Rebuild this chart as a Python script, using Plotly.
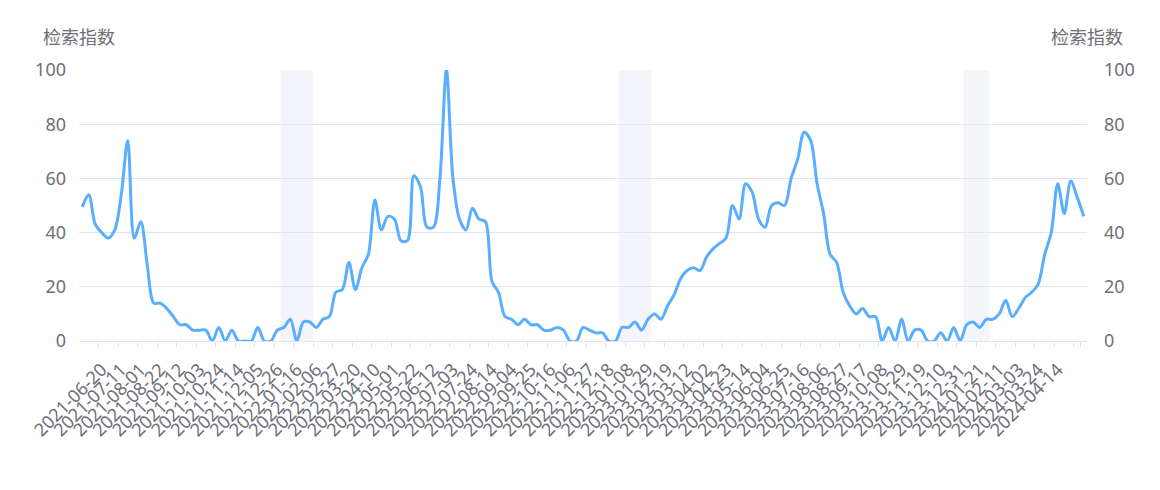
import datetime as dt
import plotly.graph_objects as go

# ---- data ----
start_date = dt.date(2021, 5, 30)
values = [
    49.5, 54, 43, 40, 38, 41, 54, 74, 38, 44,
    28, 14, 14, 12, 9, 6, 6, 4, 4, 4,
    0, 5, 0, 4, 0, 0, 0, 5, 0, 0,
    4, 5, 8, 0, 7, 7, 5, 8, 9, 18,
    19, 29, 19, 27, 32, 52, 41, 46, 45, 37,
    37, 61, 57, 42, 42, 60, 100, 60, 45, 41,
    49, 45, 44, 22, 18, 9, 8, 6, 8, 6,
    6, 4, 4, 5, 4, 0, 0, 5, 4, 3,
    3, 0, 0, 5, 5, 7, 4, 8, 10, 8,
    13, 17, 23, 26, 27, 26, 31, 34, 36, 38,
    50, 45, 58, 55, 45, 42, 50, 51, 50, 60,
    67, 77, 74, 58, 47, 32, 29, 18, 13, 10,
    12, 9, 9, 0, 5, 0, 8, 0, 4, 4,
    0, 0, 3, 0, 5, 0, 6, 7, 5, 8,
    8, 10, 15, 9, 12, 16, 18, 21, 32, 40,
    58, 47, 59, 53, 46,
]
dates = [(start_date + dt.timedelta(weeks=i)).isoformat() for i in range(len(values))]

# tick labels shown on the x axis (every third week)
tick_labels = dates[3:151:3]
extra_ticks = [dates[153]]

# holiday (Spring Festival) shaded periods: (first week, last week)
shaded_periods = [
    ("2022-01-02", "2022-01-30"),
    ("2023-01-01", "2023-01-29"),
    ("2024-01-07", "2024-01-28"),
]

y_ticks = [0, 20, 40, 60, 80, 100]
axis_name = "检索指数"

# ---- style ----
LINE = "#5AAEFF"
TEXT = "#6E7079"
GRID = "#E0E6F1"
SHADE = "#F3F5FA"
FONT = "Noto Sans, Noto Sans CJK SC, sans-serif"

fig = go.Figure()
fig.add_trace(go.Scatter(
    x=dates, y=values, mode="lines",
    line=dict(color=LINE, width=3, shape="spline", smoothing=0.9),
    hoverinfo="x+y", showlegend=False,
))
fig.add_trace(go.Scatter(
    x=dates, y=values, mode="lines", yaxis="y2",
    line=dict(color="rgba(0,0,0,0)", width=0),
    hoverinfo="skip", showlegend=False,
))

shapes = []
for a, b in shaded_periods:
    shapes.append(dict(
        type="rect", xref="x", yref="y",
        x0=dates.index(a) - 0.5, x1=dates.index(b) + 0.5,
        y0=0, y1=100, fillcolor=SHADE, line=dict(width=0), layer="below",
    ))

# page body has an 8px default margin, so the figure is 16px smaller than the window
fig.update_layout(
    width=1144, height=474,
    margin=dict(l=71, r=65, t=62, b=141),
    paper_bgcolor="white", plot_bgcolor="white",
    font=dict(family=FONT, color=TEXT, size=16),
    shapes=shapes,
    xaxis=dict(
        type="category", automargin=False,
        categoryorder="array", categoryarray=dates,
        range=[-0.5, len(dates) - 0.5],
        tickmode="array",
        tickvals=tick_labels + extra_ticks,
        ticktext=tick_labels + [""] * len(extra_ticks),
        tickson="boundaries",
        ticks="outside", ticklen=5, tickcolor=GRID, tickwidth=1,
        tickangle=-45,
        tickfont=dict(size=18, color=TEXT, family=FONT),
        ticklabelstandoff=10,
        showgrid=False, zeroline=False,
        showline=True, linecolor=GRID, linewidth=1,
    ),
    yaxis=dict(
        range=[0, 100], tickvals=y_ticks, automargin=False,
        showgrid=True, gridcolor=GRID, gridwidth=1,
        zeroline=False, showline=False, ticks="",
        tickfont=dict(size=18, color=TEXT, family=FONT),
        ticklabelstandoff=12,
    ),
    yaxis2=dict(
        range=[0, 100], tickvals=y_ticks, overlaying="y", side="right",
        automargin=False,
        showgrid=False, zeroline=False, showline=False, ticks="",
        tickfont=dict(size=18, color=TEXT, family=FONT),
        ticklabelstandoff=16,
    ),
    annotations=[
        dict(text=axis_name, xref="paper", yref="paper", x=0, y=1,
             xanchor="center", yanchor="middle", yshift=33, showarrow=False,
             font=dict(size=18, color=TEXT, family=FONT)),
        dict(text=axis_name, xref="paper", yref="paper", x=1, y=1,
             xanchor="center", yanchor="middle", yshift=33, showarrow=False,
             font=dict(size=18, color=TEXT, family=FONT)),
    ],
)

fig.write_html("out.html")
